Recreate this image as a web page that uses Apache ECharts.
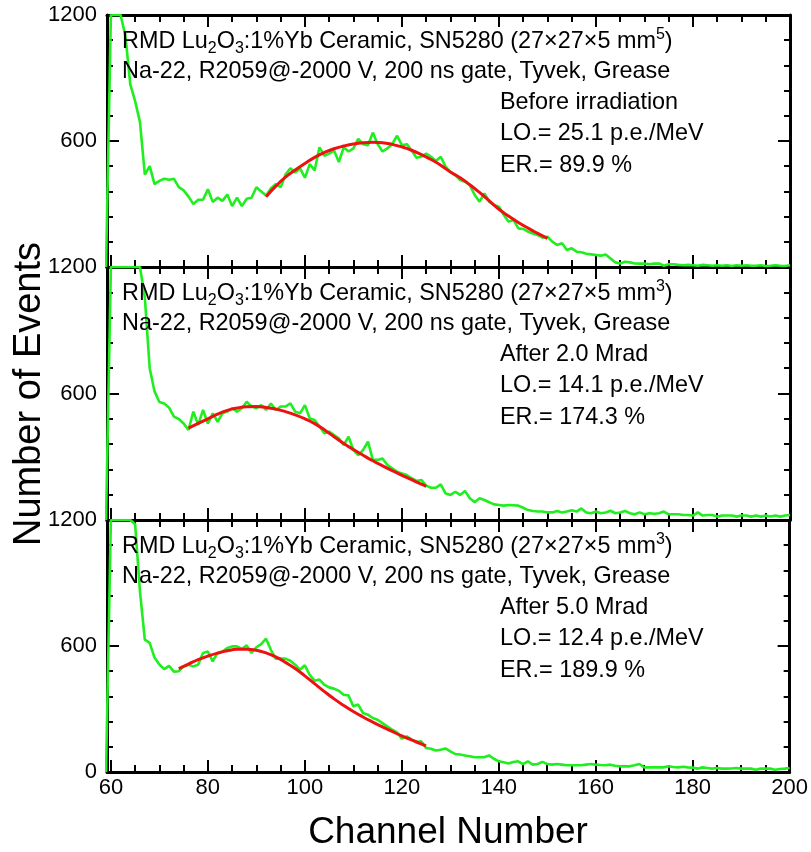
<!DOCTYPE html>
<html><head><meta charset="utf-8">
<script src="https://cdn.jsdelivr.net/npm/echarts@6/dist/echarts.min.js"></script>
<style>
html,body{margin:0;padding:0;background:#fff}
#c,#t{position:absolute;left:0;top:0;width:811px;height:852px}
#t{pointer-events:none}
</style>
</head><body><div id="c"></div><div id="t"></div>
<script>
// ---------------- DATA ----------------
const firstChannel = 59; // channel of the first value in each spectrum array
const spectrumBefore = [
  0,1200,1200,1200,1100,870,790,690,440,480,
  395,410,420,415,420,380,365,335,300,320,
  320,370,310,330,315,345,290,330,290,325,
  330,380,360,340,375,395,380,440,470,450,
  470,425,490,460,570,530,540,555,500,570,
  550,565,610,585,580,640,585,550,565,585,
  625,580,585,555,520,525,540,525,505,525,
  478,452,438,414,406,390,343,311,351,311,
  295,287,248,216,224,184,181,168,160,152,
  140,144,121,105,113,81,89,73,70,63,
  60,57,54,60,41,22,17,25,22,17,
  16,17,13,16,17,6,13,13,10,8,
  10,8,6,10,8,6,8,6,8,5,
  8,6,8,6,6,8,5,6,8,6,5,8
];
const spectrum2Mrad = [
  0,1200,1200,1200,1200,1200,1200,1200,1055,720,
  610,560,553,533,490,479,458,427,514,451,
  522,458,506,466,506,514,530,514,530,561,
  538,530,545,522,553,522,538,538,553,514,
  506,545,482,474,443,411,419,403,387,356,
  395,332,308,332,372,285,285,292,261,245,
  229,221,213,198,185,190,163,153,153,169,
  126,119,134,119,138,103,84,103,95,84,
  74,71,68,71,70,68,58,47,43,40,
  40,36,36,43,36,40,46,40,55,36,
  32,40,32,36,44,32,36,43,32,27,
  36,27,32,30,32,40,27,27,27,24,
  24,21,36,21,24,24,16,21,21,21,
  16,21,21,16,21,16,21,17,21,16,21,24
];
const spectrum5Mrad = [
  0,1200,1200,1200,1200,1200,1180,860,630,615,
  545,512,490,505,478,480,503,511,503,511,
  567,574,527,567,574,590,598,598,586,603,
  567,594,609,635,582,540,540,540,530,511,
  487,508,463,435,440,416,403,397,387,368,
  365,313,321,281,273,257,249,233,217,202,
  189,159,170,154,143,146,114,111,102,106,
  112,98,86,83,79,75,70,70,70,79,
  63,51,46,40,48,51,38,51,35,38,
  48,38,35,38,35,32,32,32,32,35,
  38,35,33,32,35,30,27,27,27,32,
  38,22,22,22,22,22,27,24,22,25,
  22,21,16,22,19,16,19,16,16,17,
  19,16,16,16,11,16,16,16,11,14,16,19
];
// Gaussian fit curves: [channel, events]
const fitBefore = [[92,335],[94,385],[96,428],[98,462],[100,493],[102,522],[104,545],[106,563],[108,576],[110,586],[112,592],[114,594],[116,592],[118,584],[120,572],[122,556],[124,535],[126,512],[128,485],[130,452],[132,425],[134,392],[136,355],[138,315],[140,275],[142,242],[144,212],[146,185],[148,160],[150,136]];
const fit2Mrad = [[76,436],[78,458],[80,480],[82,502],[84,520],[86,531],[88,537],[90,538],[92,534],[94,526],[96,514],[98,499],[100,480],[102,457],[104,428],[106,395],[108,363],[110,334],[112,307],[114,281],[116,257],[118,234],[120,212],[122,191],[124,170],[125,160]];
const fit5Mrad = [[74,492],[76,514],[78,535],[80,552],[82,566],[84,577],[86,584],[88,585],[90,580],[92,567],[94,548],[96,522],[98,493],[100,458],[102,421],[104,384],[106,349],[108,317],[110,288],[112,262],[114,238],[116,215],[118,193],[120,172],[122,153],[124,134],[125,124]];

const xMajorTicks = [60,80,100,120,140,160,180,200];
const xMinorTicks = [65,70,75,85,90,95,105,110,115,125,130,135,145,150,155,165,170,175,185,190,195];
const xRange = [59.2, 200];
const yRange = [0, 1200];
const yMajorStep = 600;

const titleLines = [
  'RMD Lu{s|2}O{s|3}:1%Yb Ceramic, SN5280 (27×27×5 mm{p|5})',
  'RMD Lu{s|2}O{s|3}:1%Yb Ceramic, SN5280 (27×27×5 mm{p|3})',
  'RMD Lu{s|2}O{s|3}:1%Yb Ceramic, SN5280 (27×27×5 mm{p|3})'
];
const setupLine = 'Na-22, R2059@-2000 V, 200 ns gate, Tyvek, Grease';
const stateLabels = ['Before irradiation', 'After 2.0 Mrad', 'After 5.0 Mrad'];
const lightOutput = ['LO.= 25.1 p.e./MeV', 'LO.= 14.1 p.e./MeV', 'LO.= 12.4 p.e./MeV'];
const energyRes = ['ER.= 89.9 %', 'ER.= 174.3 %', 'ER.= 189.9 %'];
const xTitle = 'Channel Number';
const yTitle = 'Number of Events';

const spectra = [spectrumBefore, spectrum2Mrad, spectrum5Mrad];
const fits = [fitBefore, fit2Mrad, fit5Mrad];

// ---------------- PLOT (axes, ticks, data) ----------------
const FONT = '"Liberation Sans", Arial, Helvetica, sans-serif';
const NOTE_SIZE = 23.4;
const panels = [{top:15,height:252},{top:267,height:253},{top:520,height:252}];
const grid = panels.map(p => ({left:107, right:21, top:p.top, height:p.height}));
const xAxis = [], yAxis = [], series = [];
panels.forEach((p, i) => {
  const mk = (pos, ticks, len, line, labels) => ({
    type:'value', gridIndex:i, position:pos, min:xRange[0], max:xRange[1],
    axisLine:{show:line, onZero:false, lineStyle:{color:'#000', width:3}},
    axisTick:{show:true, inside:true, length:len, customValues:ticks, lineStyle:{color:'#000', width:2}},
    axisLabel:{show:labels, customValues:ticks, color:'#000', fontSize:22, fontFamily:FONT, margin:5},
    splitLine:{show:false}
  });
  const xi = xAxis.length;
  xAxis.push(mk('bottom', xMajorTicks, 12, true, i === 2));
  xAxis.push(mk('bottom', xMinorTicks, 7, false, false));
  xAxis.push(mk('top', xMajorTicks, 12, true, false));
  xAxis.push(mk('top', xMinorTicks, 7, false, false));
  const mky = (pos, labels) => ({
    type:'value', gridIndex:i, position:pos, min:yRange[0], max:yRange[1], interval:yMajorStep,
    axisLine:{show:true, onZero:false, lineStyle:{color:'#000', width:3}},
    axisTick:{show:true, inside:true, length:12, lineStyle:{color:'#000', width:2}},
    minorTick:{show:true, splitNumber:5, length:6, lineStyle:{color:'#000', width:2}},
    axisLabel:{show:labels, color:'#000', fontSize:22, fontFamily:FONT, margin:10,
      formatter: v => (v === 0 && i < 2) ? '' : String(v)},
    splitLine:{show:false}, minorSplitLine:{show:false}
  });
  const yi = yAxis.length;
  yAxis.push(mky('left', true));
  yAxis.push(mky('right', false));
  series.push({type:'line', xAxisIndex:xi, yAxisIndex:yi, symbol:'none', clip:true,
    lineStyle:{color:'#1fee1f', width:2.6},
    data: spectra[i].map((v, k) => [firstChannel + k, v])});
  series.push({type:'line', xAxisIndex:xi, yAxisIndex:yi, symbol:'none', clip:true, smooth:true,
    lineStyle:{color:'#ee1111', width:3},
    data: fits[i]});
});
const chart = echarts.init(document.getElementById('c'));
chart.setOption({animation:false, grid, xAxis, yAxis, series});

// ---------------- TEXT LAYER (annotations, axis titles) ----------------
const graphic = [];
const rich = {
  s:{fontSize:16, fontFamily:FONT, fill:'#000', lineHeight:15, verticalAlign:'bottom'},
  p:{fontSize:16, fontFamily:FONT, fill:'#000', lineHeight:15, verticalAlign:'top'}
};
const txt = (x, y, text, withRich) => ({
  type:'text', x:x, y:y,
  style:Object.assign({text:text, fill:'#000', fontSize:NOTE_SIZE, fontFamily:FONT, lineHeight:30,
    verticalAlign:'middle'}, withRich ? {rich:rich} : {})
});
panels.forEach((p, i) => {
  graphic.push(txt(122, p.top + 27, titleLines[i], true));
  graphic.push(txt(122, p.top + 57, setupLine, false));
  graphic.push(txt(500, p.top + 88, stateLabels[i], false));
  graphic.push(txt(500, p.top + 119, lightOutput[i], false));
  graphic.push(txt(500, p.top + 151, energyRes[i], false));
});
graphic.push({type:'text', x:448, y:833,
  style:{text:xTitle, fill:'#000', fontSize:37, fontFamily:FONT, align:'center', verticalAlign:'middle'}});
graphic.push({type:'text', x:30, y:394, rotation:Math.PI/2,
  style:{text:yTitle, fill:'#000', fontSize:38, fontFamily:FONT, align:'center', verticalAlign:'middle'}});
const textLayer = echarts.init(document.getElementById('t'));
textLayer.setOption({animation:false, graphic});
</script></body></html>
